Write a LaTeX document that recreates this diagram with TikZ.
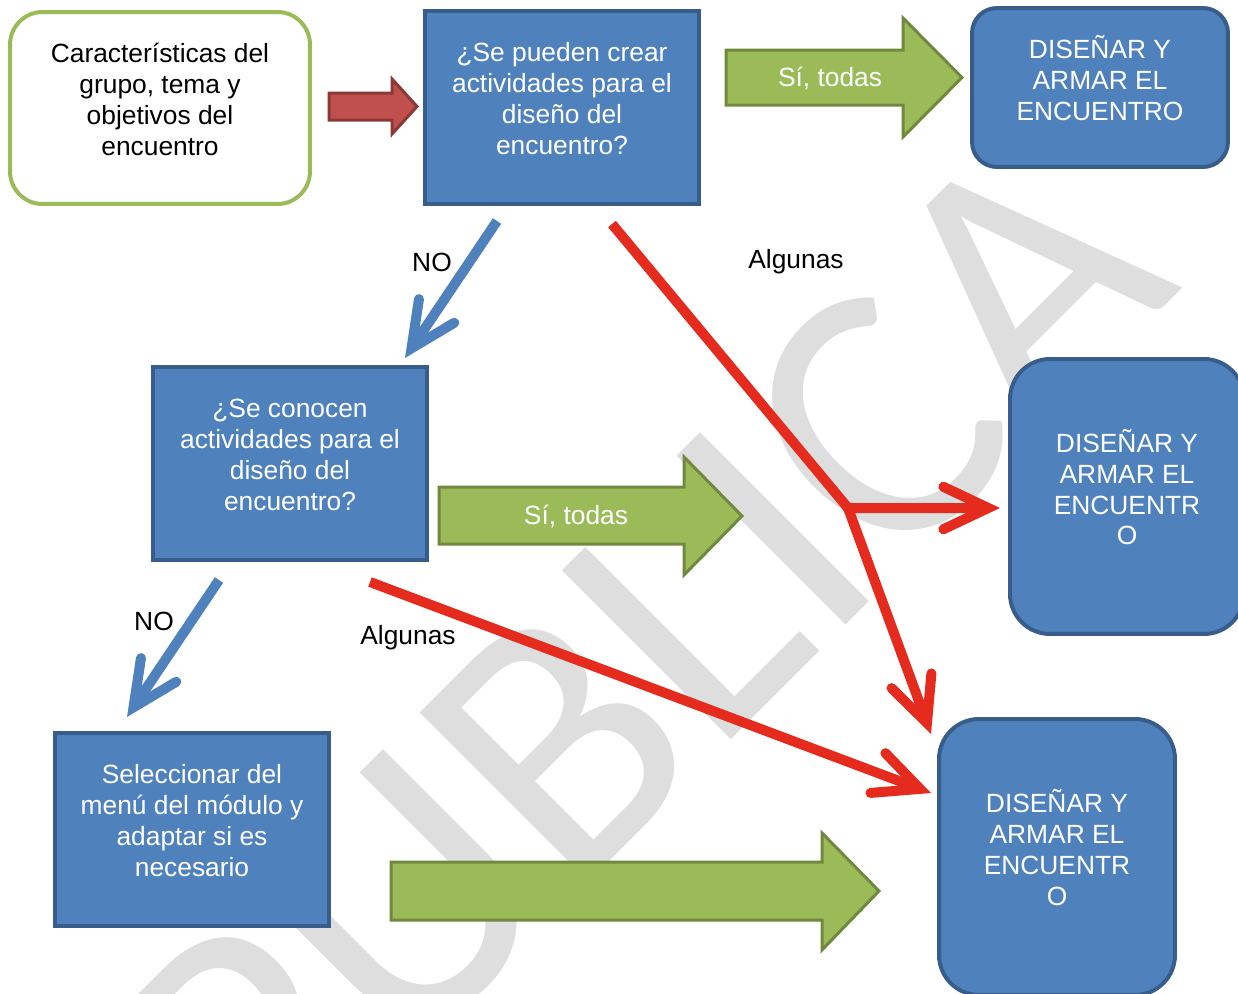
\documentclass[tikz,border=0pt]{standalone}
\usepackage{fontspec}
\setmainfont{Liberation Sans}
\newfontfamily\wmfont{Carlito}
\usetikzlibrary{arrows.meta}
\definecolor{boxblue}{HTML}{4F81BD}
\definecolor{boxbluedk}{HTML}{385D8A}
\definecolor{leafgreen}{HTML}{9BBB59}
\definecolor{leafgreendk}{HTML}{71893F}
\definecolor{brick}{HTML}{C0504D}
\definecolor{brickdk}{HTML}{8C3836}
\definecolor{signalred}{HTML}{E42B1E}
\definecolor{wmgray}{HTML}{DEDEDE}
\tikzset{
  txt/.style={font=\fontsize{15}{17.6}\selectfont, align=center},
  question/.style={txt, draw=boxbluedk, line width=0.07cm, fill=boxblue, text=white,
    minimum width=5.48cm, minimum height=3.86cm, text depth=0.35cm},
  outcome/.style={txt, draw=boxbluedk, line width=0.08cm, fill=boxblue, text=white,
    rounded corners=#1, text depth=0.38cm},
  startbox/.style={txt, draw=leafgreen, line width=0.08cm, fill=white, rounded corners=0.65cm,
    minimum width=6cm, minimum height=3.84cm, text depth=0.35cm},
  greenarrow/.style={fill=leafgreen, draw=leafgreendk, line width=0.06cm},
  redarrow/.style={fill=brick, draw=brickdk, line width=0.06cm},
  barb/.style={-{Straight Barb[length=0.9cm, width=0.85cm, line cap=round]}},
  noline/.style={draw=boxblue, line width=0.2cm, barb},
  someline/.style={draw=signalred, line width=0.2cm},
}
\begin{document}
\begin{tikzpicture}[x=0.02cm, y=-0.02cm]
    \useasboundingbox (0,0) rectangle (1238,994);
    \clip (0,0) rectangle (1238,994);
    % watermark
    \node[text=wmgray, inner sep=0, rotate=45, font=\wmfont\fontsize{212}{212}\selectfont] (wm) at (640,662) {PUBLICA};
    % boxes
    \node[startbox] (grp) at (160,108) {Características del\\grupo, tema y\\objetivos del\\encuentro};
    \node[question] (q1) at (562,107.5) {¿Se pueden crear\\actividades para el\\diseño del\\encuentro?};
    \node[question] (q2) at (290,463.5) {¿Se conocen\\actividades para el\\diseño del\\encuentro?};
    \node[question] (q3) at (192,829.5) {Seleccionar del\\menú del módulo y\\adaptar si es\\necesario};
    \node[outcome=0.5cm, minimum width=5.12cm, minimum height=3.18cm] (d1) at (1100,87.5) {DISEÑAR Y\\ARMAR EL\\ENCUENTRO};
    \node[outcome=0.8cm, minimum width=4.68cm, minimum height=5.5cm] (d2) at (1127,496.5) {DISEÑAR Y\\ARMAR EL\\ENCUENTR\\O};
    \node[outcome=0.8cm, minimum width=4.72cm, minimum height=5.52cm] (d3) at (1057,857) {DISEÑAR Y\\ARMAR EL\\ENCUENTR\\O};
    % block arrows
    \draw[redarrow] (329,93) -- (392,93) -- (392,79) -- (417,106.5) -- (392,134) -- (392,120) -- (329,120) -- cycle;
    \draw[greenarrow] (726,50) -- (903,50) -- (903,18) -- (962,77.5) -- (903,137) -- (903,105) -- (726,105) -- cycle;
    \draw[greenarrow] (439,487) -- (684,487) -- (684,457) -- (742,516) -- (684,575) -- (684,544) -- (439,544) -- cycle;
    \draw[greenarrow] (391,862) -- (822,862) -- (822,833) -- (879,891) -- (822,950) -- (822,920) -- (391,920) -- cycle;
    \node[txt, text=white] (yes1) at (830,78) {Sí, todas};
    \node[txt, text=white] (yes2) at (576,516) {Sí, todas};
    % line arrows
    \coordinate (b1s) at (497,221);
    \coordinate (b1e) at (405,358);
    \coordinate (b2s) at (219,580);
    \coordinate (b2e) at (127,717);
    \coordinate (r1s) at (612,224);
    \coordinate (jn) at (848,508);
    \coordinate (r2e) at (1000,508);
    \coordinate (r3e) at (931,734);
    \coordinate (r4s) at (370,582);
    \coordinate (r4e) at (931,793);
    \draw[noline] (b1s) -- (b1e);
    \draw[noline] (b2s) -- (b2e);
    \draw[someline, barb] (r1s) -- (jn) -- (r2e);
    \draw[someline, barb] (jn) -- (r3e);
    \draw[someline, barb] (r4s) -- (r4e);
    \node[txt] (no1) at (432,262) {NO};
    \node[txt] (no2) at (154,621) {NO};
    \node[txt] (some1) at (796,262) {Algunas};
    \node[txt] (some2) at (408,638) {Algunas};
\end{tikzpicture}
\end{document}
